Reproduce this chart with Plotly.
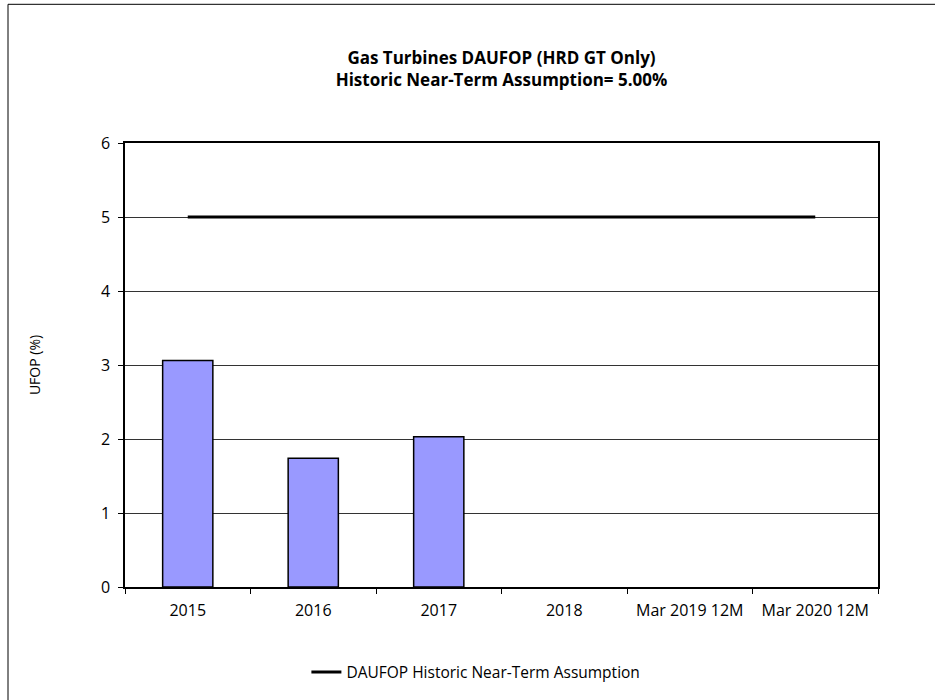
import plotly.graph_objects as go

categories = ["2015", "2016", "2017", "2018", "Mar 2019 12M", "Mar 2020 12M"]
ufop_values = [3.06, 1.74, 2.03, None, None, None]
assumption_values = [5, 5, 5, 5, 5, 5]
title_lines = ["Gas Turbines DAUFOP (HRD GT Only)", "Historic Near-Term Assumption= 5.00%"]

FONT = "'Open Sans', sans-serif"

fig = go.Figure()
fig.add_trace(go.Bar(
    x=categories, y=ufop_values, width=0.4,
    marker=dict(color="#9999FF", line=dict(color="black", width=1.5)),
    showlegend=False,
))
fig.add_trace(go.Scatter(
    x=categories, y=assumption_values, mode="lines",
    line=dict(color="black", width=3),
    name="DAUFOP Historic Near-Term Assumption",
))

fig.update_layout(
    width=935, height=700,
    margin=dict(l=125, r=57, t=143, b=112),
    paper_bgcolor="white", plot_bgcolor="white",
    font=dict(family=FONT, size=14, color="black"),
    title=dict(text="<b>" + "<br>".join(title_lines) + "</b>",
               x=0.5, xref="paper", xanchor="center",
               y=1 - 64 / 700, yanchor="middle",
               font=dict(size=17, family=FONT)),
    showlegend=True,
    legend=dict(orientation="h", x=0.466, xanchor="center", y=-0.19, yanchor="middle",
                font=dict(size=15.5), bgcolor="rgba(0,0,0,0)"),
    bargap=0.6,
)
fig.update_xaxes(
    type="category", showline=True, linecolor="black", linewidth=1.5, mirror=True,
    ticks="outside", ticklen=5, tickcolor="black", tickson="boundaries",
    showgrid=False, tickfont=dict(size=16), ticklabelstandoff=8,
)
fig.update_yaxes(
    range=[0, 6], dtick=1, showline=True, linecolor="black", linewidth=1.5, mirror=True,
    ticks="outside", ticklen=5, tickcolor="black",
    showgrid=True, gridcolor="#333333", gridwidth=1, zeroline=False,
    title=dict(text="UFOP (%)", font=dict(size=14), standoff=57),
    tickfont=dict(size=16), ticklabelstandoff=5,
)
# outer chart border (only top and left visible in the frame)
fig.add_shape(type="rect", xref="paper", yref="paper",
              x0=(8 - 125) / 753, x1=1.2, y0=-0.5, y1=(588 - 4) / 445,
              line=dict(color="black", width=1), layer="below")

fig.write_html("out.html")
